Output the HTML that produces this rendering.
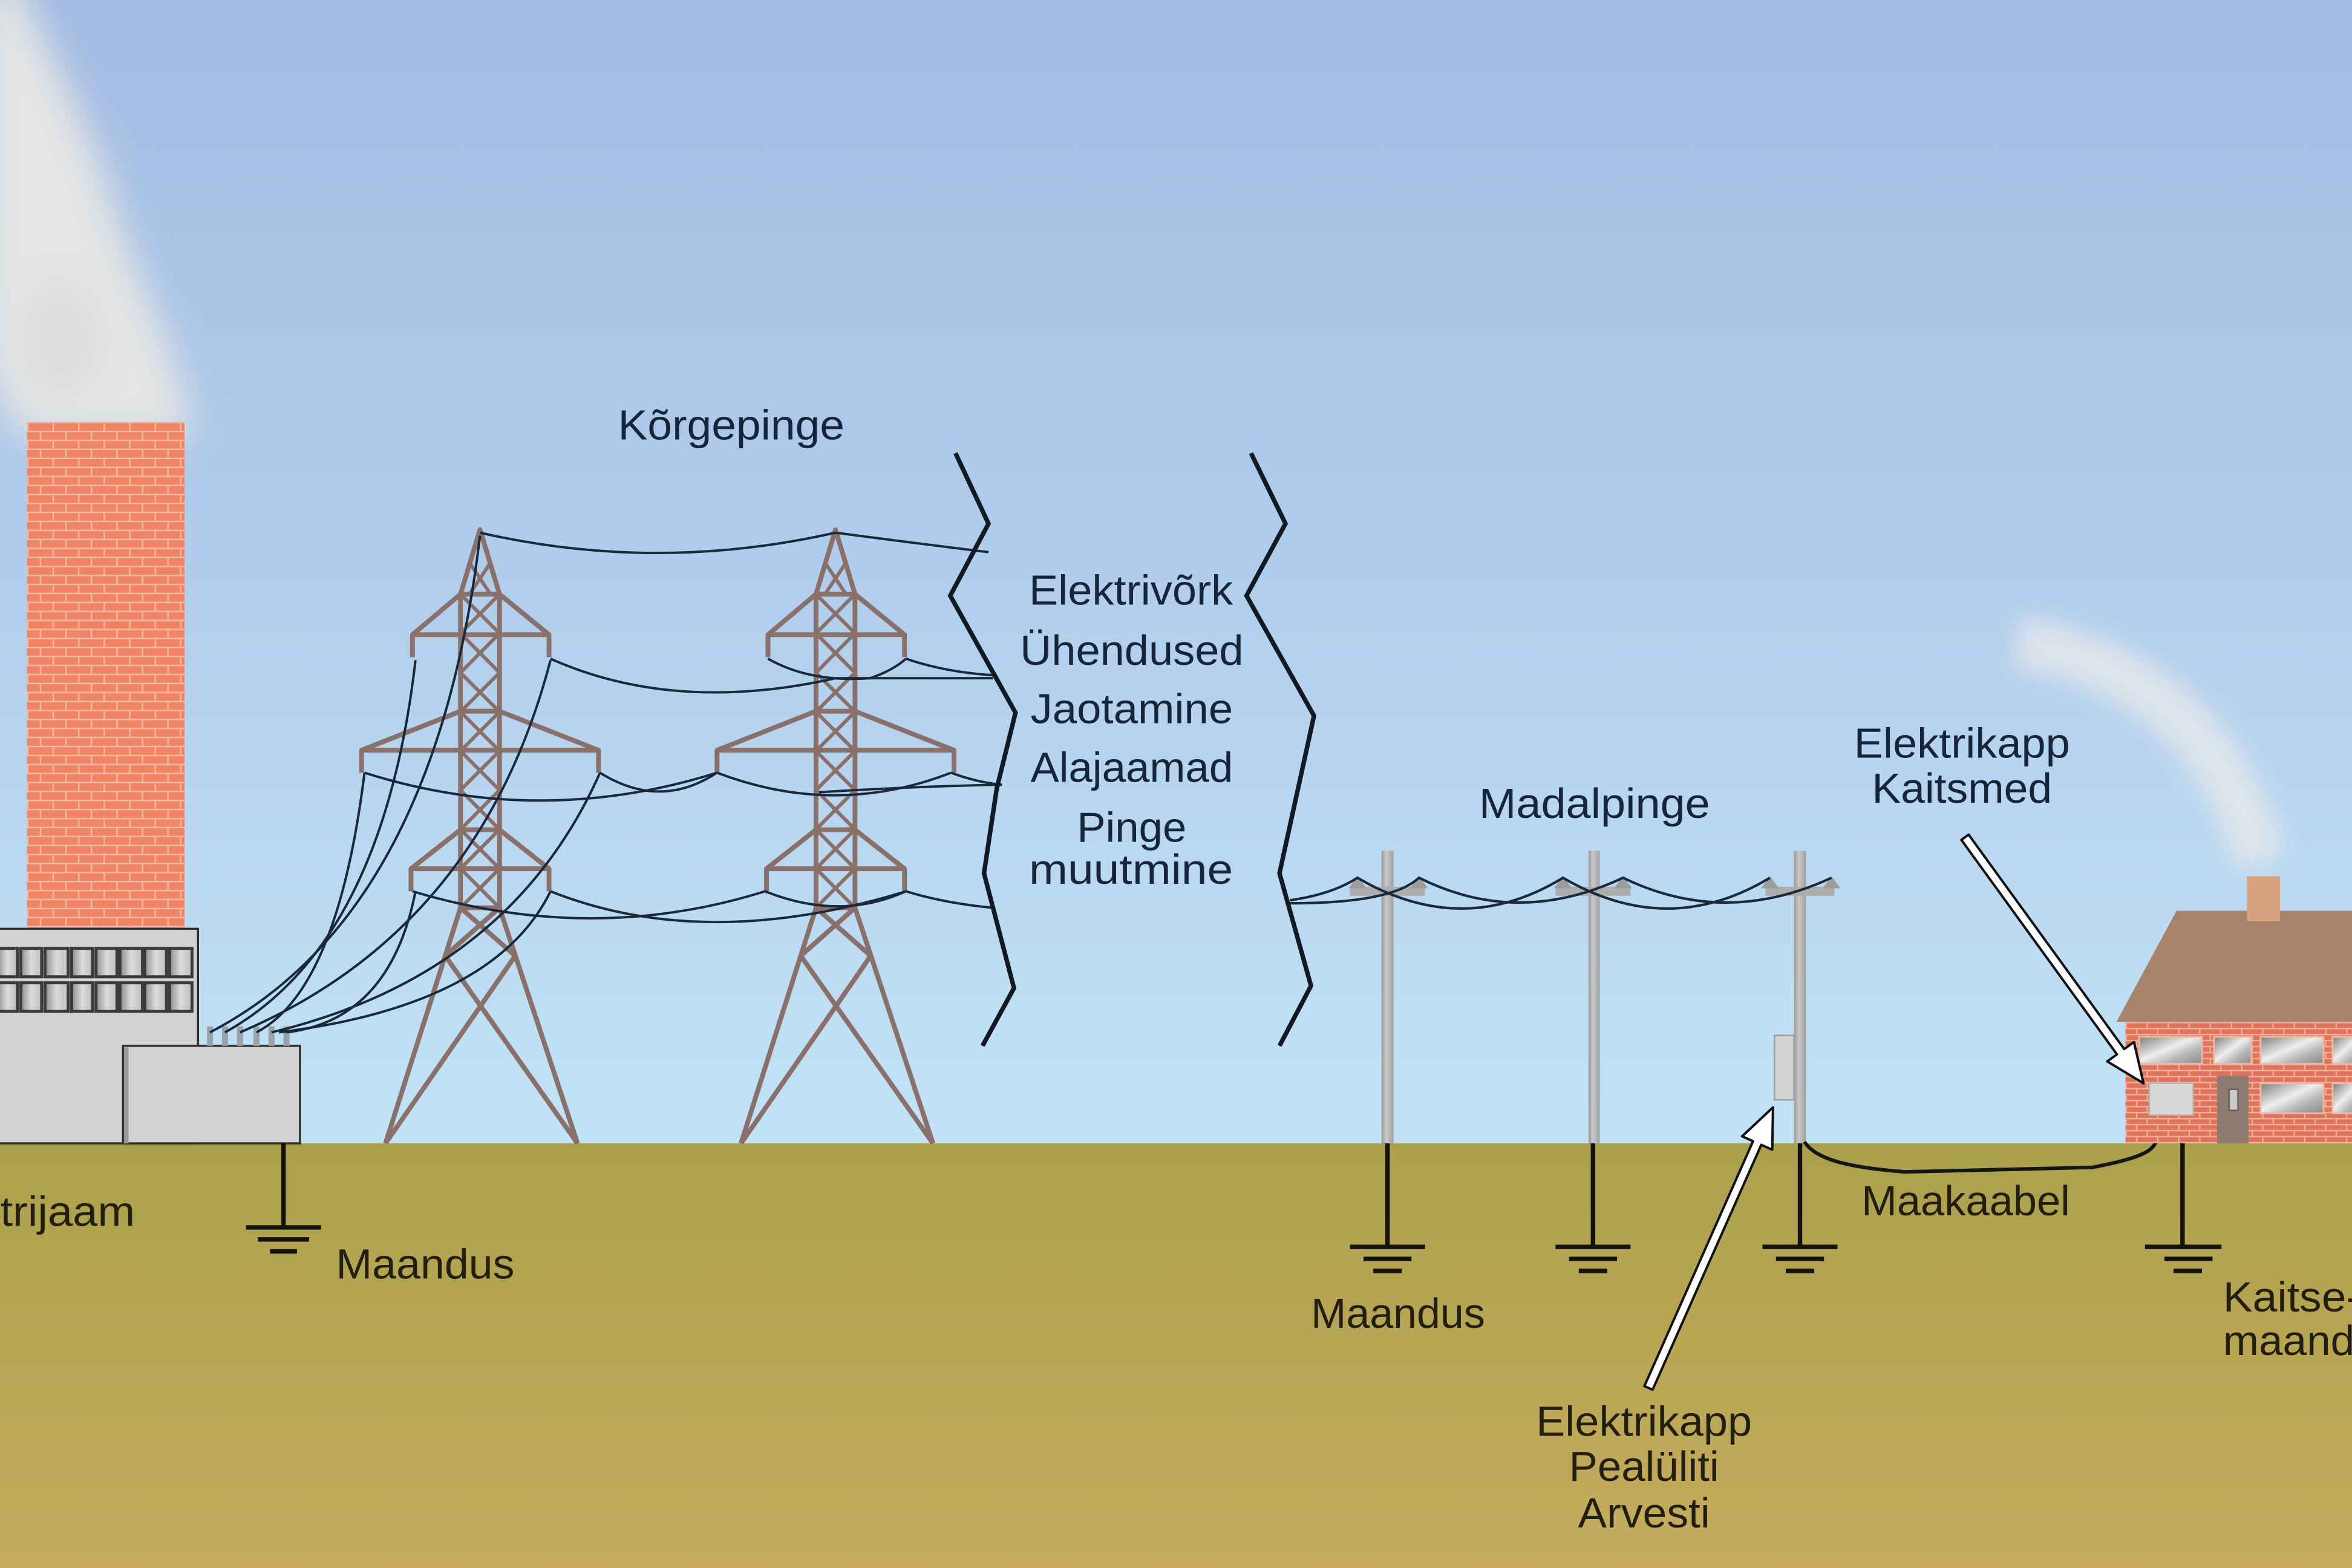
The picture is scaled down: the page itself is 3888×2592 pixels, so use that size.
<!DOCTYPE html>
<html><head><meta charset="utf-8">
<style>
html,body{margin:0;padding:0;width:3888px;height:2592px;overflow:hidden;background:#b5d2ee;}
svg{display:block;}
text{font-family:"Liberation Sans",sans-serif;}
</style></head>
<body>
<svg width="3888" height="2592" viewBox="0 0 1568 1045" preserveAspectRatio="none" xmlns="http://www.w3.org/2000/svg">
<defs>
 <linearGradient id="sky" x1="0" y1="0" x2="0" y2="1">
  <stop offset="0" stop-color="#a3bbe2"/>
  <stop offset="0.5" stop-color="#b1cdec"/>
  <stop offset="1" stop-color="#c2e3f6"/>
 </linearGradient>
 <linearGradient id="ground" x1="0" y1="0" x2="0" y2="1">
  <stop offset="0" stop-color="#aba14c"/>
  <stop offset="1" stop-color="#c6ab5e"/>
 </linearGradient>
 <pattern id="brick" width="17" height="12" patternUnits="userSpaceOnUse" x="18" y="281">
  <rect width="17" height="12" fill="#ef8467"/>
  <path d="M0 0.5H17M0 6.5H17M0.5 0V6M9 6V12" stroke="#f8b9a1" stroke-width="1"/>
 </pattern>
 <pattern id="hbrick" width="14" height="8" patternUnits="userSpaceOnUse" x="1417" y="681">
  <rect width="14" height="8" fill="#e0735a"/>
  <path d="M0 0.5H14M0 4.5H14M0.5 0V4M7.5 4V8" stroke="#f2b3a0" stroke-width="0.9"/>
 </pattern>
 <linearGradient id="glass" x1="0" y1="0" x2="1" y2="1">
  <stop offset="0" stop-color="#7d7d7d"/>
  <stop offset="0.45" stop-color="#eeeeee"/>
  <stop offset="0.7" stop-color="#b5b5b5"/>
  <stop offset="1" stop-color="#8a8a8a"/>
 </linearGradient>
 <linearGradient id="pwin" x1="0" y1="0" x2="1" y2="0">
  <stop offset="0" stop-color="#8c8c8c"/>
  <stop offset="0.5" stop-color="#dcdcdc"/>
  <stop offset="1" stop-color="#bdbdbd"/>
 </linearGradient>
 <linearGradient id="pole" x1="0" y1="0" x2="1" y2="0">
  <stop offset="0" stop-color="#9a9a9a"/>
  <stop offset="0.4" stop-color="#c9c9c9"/>
  <stop offset="1" stop-color="#a0a0a0"/>
 </linearGradient>
 <filter id="blur8" x="-50%" y="-50%" width="200%" height="200%"><feGaussianBlur stdDeviation="8"/></filter>
 <filter id="blur12" x="-50%" y="-50%" width="200%" height="200%"><feGaussianBlur stdDeviation="12"/></filter>
 <g id="tower" fill="none" stroke="#8a706b" stroke-linejoin="round">
  <g stroke-width="3.2">
   <path d="M-13,396 V605 M13,396 V605 M-13,396 L0,353 L13,396"/>
   <path d="M-13,396 H13 M-13,474 H13 M-13,553 H13 M-13,605 H13"/>
   <path d="M-45,438 V423 H46 V438 M-45,423 L-13,396 M46,423 L13,396"/>
   <path d="M-79,515 V500 H79 V515 M-79,500 L-13,474 M79,500 L13,474"/>
   <path d="M-46,594 V579 H46 V594 M-46,579 L-13,553 M46,579 L13,553"/>
   <path d="M-13,605 L-63,762 M13,605 L65,762"/>
   <path d="M-13,605 L23.5,637 M13,605 L-23.2,637 M-23.2,637 L65,762 M23.5,637 L-63,762"/>
  </g>
  <path stroke-width="2.4" d="M-13,396L13,422.1M13,396L-13,422.1 M-13,422.1L13,448.3M13,422.1L-13,448.3 M-13,448.3L13,474.4M13,448.3L-13,474.4 M-13,474.4L13,500.5M13,474.4L-13,500.5 M-13,500.5L13,526.6M13,500.5L-13,526.6 M-13,526.6L13,552.8M13,526.6L-13,552.8 M-13,552.8L13,578.9M13,552.8L-13,578.9 M-13,578.9L13,605M13,578.9L-13,605 M-7,375 L7,396 M7,375 L-7,396"/>
 </g>
 <g id="gnd" fill="none" stroke="#15120a" stroke-width="3">
  <path d="M0,0 V69 M-25,69 H25 M-16,77 H16 M-9.5,85 H9.5"/>
 </g>
</defs>

<!-- sky & ground -->
<rect x="0" y="0" width="1568" height="763" fill="url(#sky)"/>
<rect x="0" y="762" width="1568" height="283" fill="url(#ground)"/>

<!-- plant smoke -->
<path d="M-14,-10 L14,-10 C34,40 58,80 74,130 C88,180 110,215 122,260 L128,292 L14,292 C6,270 -14,250 -14,230 Z" fill="#e4e5e4" filter="url(#blur12)"/>
<ellipse cx="40" cy="226" rx="28" ry="38" fill="#cfd2d4" opacity="0.4" filter="url(#blur12)"/>

<!-- chimney -->
<rect x="18" y="281" width="105" height="338" fill="url(#brick)"/>

<!-- power plant -->
<rect x="-2" y="619" width="134" height="143" fill="#d3d3d3" stroke="#2e2e2e" stroke-width="1.4"/>
<g fill="url(#pwin)" stroke="#3a3a3a" stroke-width="2">
 <rect x="-2" y="632" width="13.6" height="19"/><rect x="13.9" y="632" width="13.9" height="19"/><rect x="30" y="632" width="15.5" height="19"/><rect x="47.8" y="632" width="13.9" height="19"/><rect x="64" y="632" width="14" height="19"/><rect x="80" y="632" width="15" height="19"/><rect x="96.5" y="632" width="14.5" height="19"/><rect x="113" y="632" width="15" height="19"/>
 <rect x="-2" y="655" width="13.6" height="19"/><rect x="13.9" y="655" width="13.9" height="19"/><rect x="30" y="655" width="15.5" height="19"/><rect x="47.8" y="655" width="13.9" height="19"/><rect x="64" y="655" width="14" height="19"/><rect x="80" y="655" width="15" height="19"/><rect x="96.5" y="655" width="14.5" height="19"/><rect x="113" y="655" width="15" height="19"/>
</g>
<rect x="82" y="697" width="118" height="65" fill="#d3d3d3" stroke="#2e2e2e" stroke-width="1.4"/>
<rect x="82.7" y="698" width="3" height="64" fill="#9a9a9a"/>
<g fill="#9aa2a8">
 <rect x="138" y="684" width="4" height="13"/><rect x="148" y="684" width="4" height="13"/><rect x="158" y="684" width="4" height="13"/><rect x="169" y="684" width="4" height="13"/><rect x="179" y="684" width="4" height="13"/><rect x="189" y="684" width="4" height="13"/>
</g>

<!-- grounds -->
<path d="M189,762 V818 M164,818 H214 M172,826 H206 M180,834 H198" fill="none" stroke="#15120a" stroke-width="3"/>
<use href="#gnd" x="925" y="762"/>
<use href="#gnd" x="1062" y="762"/>
<use href="#gnd" x="1200" y="762"/>
<path d="M1455,744 V831 M1430,831 H1481 M1443,839 H1475 M1449,847 H1468" fill="none" stroke="#15120a" stroke-width="3"/>

<!-- towers -->
<use href="#tower" x="320" y="0"/>
<use href="#tower" x="557" y="0"/>

<!-- HV wires -->
<g fill="none" stroke="#1a293a" stroke-width="1.6">
 <path d="M320,355 Q438,382 557,355"/>
 <path d="M557,355 Q610,362 659,368"/>
 <path d="M367,439 Q450,476 557,452 L662,452"/>
 <path d="M512,439 Q540,455 580,452 Q595,447 604,439"/>
 <path d="M604,439 Q630,448 662,450"/>
 <path d="M243,515 Q360,552 478,515"/>
 <path d="M400,515 Q440,540 478,515"/>
 <path d="M478,515 Q557,545 634,515"/>
 <path d="M546,528 Q610,524 668,523"/>
 <path d="M634,515 Q650,521 667,523"/>
 <path d="M275,594 Q395,630 510,594"/>
 <path d="M367,594 Q470,635 604,594"/>
 <path d="M510,594 Q560,614 604,594"/>
 <path d="M604,594 Q630,602 662,605"/>
 <!-- plant feeders -->
 <path d="M140,688 Q290,610 320,357"/>
 <path d="M150,688 Q255,630 277,440"/>
 <path d="M160,688 Q320,620 367,440"/>
 <path d="M171,688 Q225,660 243,515"/>
 <path d="M181,688 Q340,650 400,515"/>
 <path d="M191,688 Q260,680 277,594"/>
 <path d="M186,688 Q330,670 367,594"/>
</g>

<!-- brackets -->
<g fill="none" stroke="#111a22" stroke-width="3" stroke-linejoin="miter">
 <path d="M637,302 L659,349 L633.5,397 L677,475 L664.5,525.5 L656,582 L676,658.5 L655,697"/>
 <path d="M834,302 L857,349 L831,397 L876,477 L853,582 L874,657 L853,697"/>
</g>

<!-- poles -->
<rect x="921" y="567" width="8" height="195" fill="url(#pole)"/>
<rect x="1059" y="567" width="7.5" height="195" fill="url(#pole)"/>
<rect x="1196" y="567" width="8" height="195" fill="url(#pole)"/>
<g fill="#adadad">
 <rect x="900" y="591" width="50" height="6"/>
 <rect x="1037" y="591" width="50" height="6"/>
 <rect x="1177" y="591" width="46" height="6"/>
</g>
<g fill="#9d9d9d">
 <polygon points="899,592 905,584 911,592"/><polygon points="940,592 946,584 952,592"/>
 <polygon points="1036,592 1042,584 1048,592"/><polygon points="1076,592 1082,584 1088,592"/>
 <polygon points="1174,592 1180,584 1186,592"/><polygon points="1215,592 1221,584 1227,592"/>
</g>
<rect x="1183" y="690" width="13" height="43" fill="#d3d3d3" stroke="#a0a0a0" stroke-width="1"/>
<g fill="none" stroke="#1a2a3a" stroke-width="1.7">
 <path d="M860,600 Q888,596 905,585 Q975,626 1042,585 Q1112,626 1180,585"/>
 <path d="M860,602 Q928,602 946,585 Q1012,618 1082,585 Q1150,618 1221,585"/>
</g>

<!-- cable -->
<path d="M1203,761 C1210,772 1230,778 1270,781 L1395,778 C1425,772 1437,768 1438,758 L1438,744" fill="none" stroke="#151515" stroke-width="2.4"/>

<!-- house smoke -->
<path d="M1345,428 C1420,440 1482,482 1507,575" fill="none" stroke="#e6e8ea" stroke-width="34" opacity="0.85" filter="url(#blur8)"/>

<!-- house -->
<rect x="1417" y="681" width="151" height="81" fill="url(#hbrick)"/>
<polygon points="1411,681 1451,607 1568,607 1568,681" fill="#a6836a"/>
<rect x="1498" y="584" width="22" height="30" fill="#d9a27f"/>
<g fill="url(#glass)" stroke="#f0b7a5" stroke-width="1.2">
 <rect x="1426" y="691" width="42" height="18"/><rect x="1476" y="691" width="25" height="18"/><rect x="1507" y="691" width="42" height="18"/><rect x="1555" y="691" width="20" height="18"/>
 <rect x="1507" y="722" width="42" height="20"/><rect x="1555" y="722" width="20" height="20"/>
</g>
<rect x="1478" y="717" width="21" height="45" fill="#8e7b71"/>
<rect x="1486" y="726" width="6" height="14" fill="#c9c9c9" stroke="#6d5f58" stroke-width="1"/>
<rect x="1433" y="722" width="29" height="21" fill="#d8d8d8" stroke="#bbbbbb" stroke-width="1"/>

<!-- arrows -->
<g fill="#ffffff" stroke="#111111" stroke-width="1.6" stroke-linejoin="round">
 <polygon transform="translate(1310,558) rotate(54.03)" points="0,-3 176.6,-3 176.6,-11 202.6,0 176.6,11 176.6,3 0,3"/>
 <polygon transform="translate(1099,925) rotate(-66.07)" points="0,-3 178.6,-3 178.6,-11 204.6,0 178.6,11 178.6,3 0,3"/>
</g>

<!-- labels -->
<g font-size="28" fill="#16253a">
 <text x="412" y="293" textLength="151" lengthAdjust="spacingAndGlyphs">Kõrgepinge</text>
 <text x="686" y="403" textLength="136" lengthAdjust="spacingAndGlyphs">Elektrivõrk</text>
 <text x="680" y="443" textLength="149" lengthAdjust="spacingAndGlyphs">Ühendused</text>
 <text x="687" y="482" textLength="135" lengthAdjust="spacingAndGlyphs">Jaotamine</text>
 <text x="687" y="521" textLength="135" lengthAdjust="spacingAndGlyphs">Alajaamad</text>
 <text x="718" y="561" textLength="73" lengthAdjust="spacingAndGlyphs">Pinge</text>
 <text x="686" y="589" textLength="136" lengthAdjust="spacingAndGlyphs">muutmine</text>
 <text x="986" y="545" textLength="154" lengthAdjust="spacingAndGlyphs">Madalpinge</text>
 <text x="1236" y="505" textLength="144" lengthAdjust="spacingAndGlyphs">Elektrikapp</text>
 <text x="1248" y="535" textLength="120" lengthAdjust="spacingAndGlyphs">Kaitsmed</text>
</g>
<g font-size="28" fill="#231f10">
 <text x="-58" y="817" textLength="148" lengthAdjust="spacingAndGlyphs">Elektrijaam</text>
 <text x="224" y="852" textLength="119" lengthAdjust="spacingAndGlyphs">Maandus</text>
 <text x="874" y="885" textLength="116" lengthAdjust="spacingAndGlyphs">Maandus</text>
 <text x="1241" y="810" textLength="139" lengthAdjust="spacingAndGlyphs">Maakaabel</text>
 <text x="1024" y="957" textLength="144" lengthAdjust="spacingAndGlyphs">Elektrikapp</text>
 <text x="1046" y="987" textLength="100" lengthAdjust="spacingAndGlyphs">Pealüliti</text>
 <text x="1052" y="1018" textLength="88" lengthAdjust="spacingAndGlyphs">Arvesti</text>
 <text x="1482" y="874" textLength="92" lengthAdjust="spacingAndGlyphs">Kaitse-</text>
 <text x="1482" y="903" textLength="118" lengthAdjust="spacingAndGlyphs">maandus</text>
</g>
</svg>
</body></html>
